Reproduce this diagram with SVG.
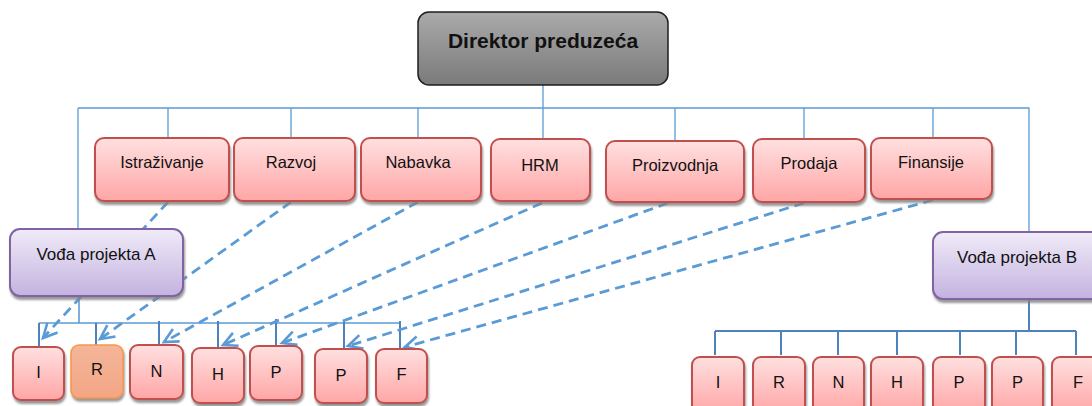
<svg xmlns="http://www.w3.org/2000/svg" width="1092" height="406" viewBox="0 0 1092 406">
<style>
text{font-family:"Liberation Sans",Arial,sans-serif;fill:#111;text-anchor:middle}
.l2{font-size:16.5px}
.sm{font-size:16.5px}
.pink{fill:url(#gPink);stroke:#C0504D;stroke-width:2;filter:url(#sh)}
.orange{fill:url(#gOrange);stroke:#F79646;stroke-width:1.5;filter:url(#sh)}
.purple{fill:url(#gPurple);stroke:#8064A2;stroke-width:2;filter:url(#sh)}
.org{fill:none;stroke:#5B9BD5;stroke-width:1.3}
.orgA{fill:none;stroke:#5B9BD5;stroke-width:1.6}
.dropA{fill:none;stroke:#4F81BD;stroke-width:2}
.orgB{fill:none;stroke:#4F81BD;stroke-width:2}
.dash{fill:none;stroke:#5B9BD5;stroke-width:2.8;stroke-dasharray:10,6;marker-end:url(#arr)}
</style>
<defs>
<linearGradient id="gPink" x1="0" y1="0" x2="0" y2="1"><stop offset="0" stop-color="#FFE0E0"/><stop offset="1" stop-color="#FFA6A6"/></linearGradient>
<linearGradient id="gOrange" x1="0" y1="0" x2="0" y2="1"><stop offset="0" stop-color="#F4B59A"/><stop offset="1" stop-color="#F3A685"/></linearGradient>
<linearGradient id="gPurple" x1="0" y1="0" x2="0" y2="1"><stop offset="0" stop-color="#F0EBF8"/><stop offset="1" stop-color="#C4B2E0"/></linearGradient>
<linearGradient id="gGray" x1="0" y1="0" x2="0" y2="1"><stop offset="0" stop-color="#AAAAAA"/><stop offset="1" stop-color="#7A7A7A"/></linearGradient>
<filter id="sh" x="-10%" y="-10%" width="125%" height="135%"><feDropShadow dx="1" dy="3" stdDeviation="0.8" flood-color="#7F7F7F" flood-opacity="0.8"/></filter>
<marker id="arr" markerUnits="userSpaceOnUse" markerWidth="18" markerHeight="18" refX="15" refY="8" orient="auto" viewBox="0 0 18 16"><path d="M1,1 L15,8 L1,15" fill="none" stroke="#5B9BD5" stroke-width="2.6"/></marker>
</defs>

<g id="connectors">
<path class="org" d="M543,85 V139 M78,108 H1029 V232 M78,108 V229 M168,108 V138 M291,108 V138 M418,108 V138 M675,108 V141 M804,108 V139 M933,108 V138"/>
<path class="orgA" d="M79,296 V323 M39,323 H400"/>
<path class="dropA" d="M39,323 V347 M96,323 V345 M159,321 V345 M218,321 V348 M276,319 V346 M344,321 V349 M400,321 V349"/>
<path class="orgB" d="M1029,299 V331 M715,331 H1076 M715,331 V355 M781,331 V355 M838,331 V355 M897,331 V355 M960,331 V355 M1016,331 V355 M1076,331 V355"/>
<path class="dash" d="M168,202 L43,338"/>
<path class="dash" d="M291,202 L100,339"/>
<path class="dash" d="M418,202 L164,342"/>
<path class="dash" d="M542,203 L223,345"/>
<path class="dash" d="M668,203 L282,343"/>
<path class="dash" d="M804,203 L348,346"/>
<path class="dash" d="M933,200 L405,347"/>
</g>

<g id="director"><rect x="418" y="12" width="250" height="73" rx="11" fill="url(#gGray)" stroke="#1E1E1E" stroke-width="1.5"/><text x="543" y="48" style="font-size:21px;font-weight:bold">Direktor preduzeća</text></g>

<g id="istrazivanje"><rect class="pink" x="95" y="138" width="134" height="63" rx="9"/><text class="l2" x="162" y="168">Istraživanje</text></g>
<g id="razvoj"><rect class="pink" x="234" y="138" width="121" height="63" rx="9"/><text class="l2" x="291" y="168">Razvoj</text></g>
<g id="nabavka"><rect class="pink" x="361" y="138" width="120" height="63" rx="9"/><text class="l2" x="418" y="168">Nabavka</text></g>
<g id="hrm"><rect class="pink" x="491" y="139" width="99" height="62" rx="9"/><text class="l2" x="540" y="171">HRM</text></g>
<g id="proizvodnja"><rect class="pink" x="606" y="141" width="138" height="61" rx="9"/><text class="l2" x="675" y="171">Proizvodnja</text></g>
<g id="prodaja"><rect class="pink" x="753" y="139" width="112" height="63" rx="9"/><text class="l2" x="809" y="169">Prodaja</text></g>
<g id="finansije"><rect class="pink" x="871" y="138" width="121" height="61" rx="9"/><text class="l2" x="931" y="168">Finansije</text></g>

<g id="voda-a"><rect class="purple" x="10" y="229" width="173" height="67" rx="10"/><text class="l2" x="96" y="260" style="font-size:17px">Vođa projekta A</text></g>
<g id="voda-b"><rect class="purple" x="933" y="232" width="170" height="67" rx="10"/><text class="l2" x="1017" y="263" style="font-size:17px">Vođa projekta B</text></g>

<g id="a-i"><rect class="pink" x="13" y="347" width="51" height="53" rx="8"/><text class="sm" x="38.5" y="378">I</text></g>
<g id="a-r"><rect class="orange" x="71" y="345" width="52" height="53" rx="8"/><text class="sm" x="97" y="375">R</text></g>
<g id="a-n"><rect class="pink" x="130" y="345" width="53" height="54" rx="8"/><text class="sm" x="156.5" y="377">N</text></g>
<g id="a-h"><rect class="pink" x="192" y="348" width="52" height="55" rx="8"/><text class="sm" x="218" y="380">H</text></g>
<g id="a-p1"><rect class="pink" x="250" y="346" width="52" height="54" rx="8"/><text class="sm" x="276" y="378">P</text></g>
<g id="a-p2"><rect class="pink" x="315" y="349" width="52" height="54" rx="8"/><text class="sm" x="341" y="381">P</text></g>
<g id="a-f"><rect class="pink" x="376" y="349" width="51" height="54" rx="8"/><text class="sm" x="401.5" y="380">F</text></g>

<g id="b-i"><rect class="pink" x="692" y="357" width="52" height="56" rx="8"/><text class="sm" x="718" y="388">I</text></g>
<g id="b-r"><rect class="pink" x="753" y="357" width="52" height="56" rx="8"/><text class="sm" x="779" y="388">R</text></g>
<g id="b-n"><rect class="pink" x="813" y="357" width="51" height="56" rx="8"/><text class="sm" x="838.5" y="388">N</text></g>
<g id="b-h"><rect class="pink" x="871" y="357" width="52" height="56" rx="8"/><text class="sm" x="897" y="388">H</text></g>
<g id="b-p1"><rect class="pink" x="933" y="357" width="52" height="56" rx="8"/><text class="sm" x="959" y="388">P</text></g>
<g id="b-p2"><rect class="pink" x="992" y="357" width="51" height="56" rx="8"/><text class="sm" x="1017.5" y="388">P</text></g>
<g id="b-f"><rect class="pink" x="1052" y="357" width="52" height="56" rx="8"/><text class="sm" x="1078" y="388">F</text></g>
</svg>
